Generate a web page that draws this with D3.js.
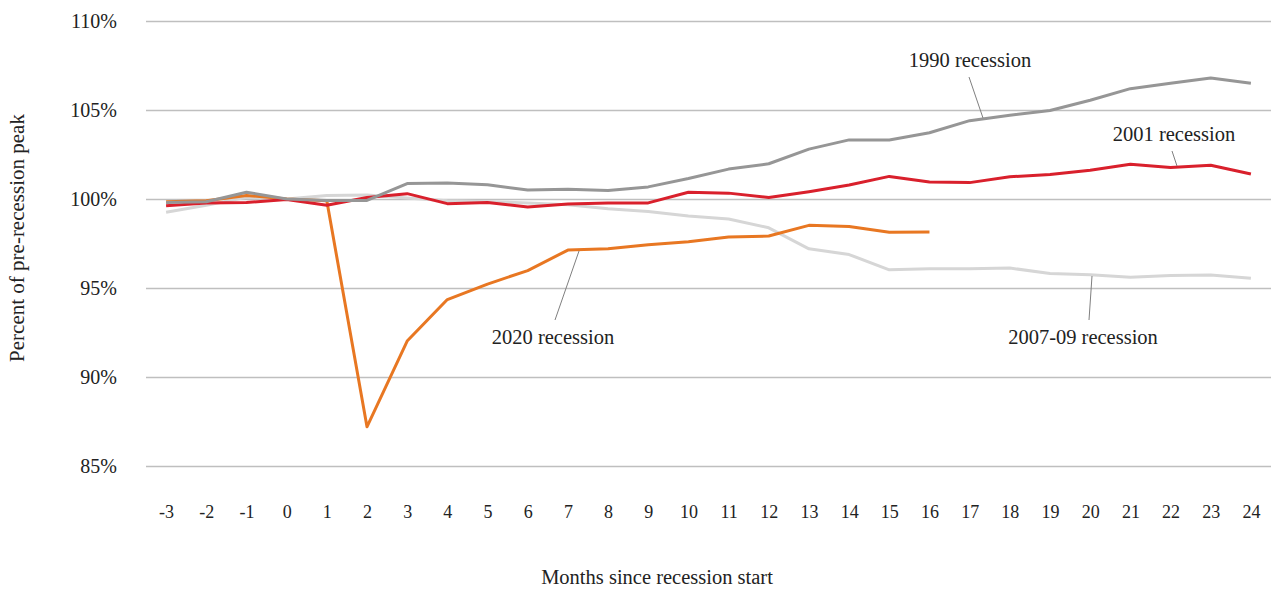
<!DOCTYPE html>
<meta charset="utf-8">
<head>
	<title>Recessions</title>
	<script src="https://cdnjs.cloudflare.com/ajax/libs/d3/7.8.5/d3.min.js" charset="utf-8"></script>
</head>
<style type="text/css">
	body { margin: 0; background: #fff; }
	text { font-family: "Liberation Serif", "DejaVu Serif", serif; fill: #222; }
	.grid line { stroke: #bfbfbf; stroke-width: 1.3; }
	.series { fill: none; stroke-width: 3; stroke-linejoin: round; }
</style>
<body>
<div id=chart></div>
<script>
	// months since recession start
	var months = [-3,-2,-1,0,1,2,3,4,5,6,7,8,9,10,11,12,13,14,15,16,17,18,19,20,21,22,23,24];
	var yTicks = [85, 90, 95, 100, 105, 110];

	// percent of pre-recession peak
	var r1990 = [99.8,99.85,100.38,100,99.92,99.92,100.87,100.9,100.8,100.5,100.55,100.48,100.68,101.15,101.68,101.98,102.8,103.32,103.32,103.72,104.4,104.7,104.97,105.55,106.2,106.5,106.8,106.5];
	var r2001 = [99.62,99.78,99.8,99.97,99.65,100.08,100.3,99.74,99.8,99.55,99.72,99.78,99.78,100.38,100.33,100.08,100.41,100.79,101.27,100.95,100.92,101.25,101.38,101.62,101.95,101.77,101.9,101.4];
	var r2007 = [99.25,99.65,100.1,100,100.2,100.22,100.05,99.9,99.85,99.78,99.68,99.45,99.3,99.05,98.88,98.38,97.2,96.88,96.02,96.08,96.08,96.12,95.82,95.75,95.6,95.7,95.73,95.55];
	var r2020 = [99.85,99.9,100.2,100,99.9,87.2,92.02,94.35,95.22,95.98,97.13,97.2,97.43,97.6,97.86,97.92,98.52,98.46,98.13,98.15];

	var seriesNames = ["2007-09 recession", "2020 recession", "2001 recession", "1990 recession"];
	var seriesValues = [r2007, r2020, r2001, r1990];
	var seriesColors = ["#d6d6d6", "#e87722", "#d9202c", "#969696"];

	var width = 1271, height = 590;
	var margin = {top: 21, right: 0, bottom: 124, left: 146};

	var svg = d3.select("#chart").append("svg")
		.attr("width", width)
		.attr("height", height);

	var xScale = d3.scalePoint()
		.domain(months)
		.range([margin.left, width - margin.right])
		.padding(0.5);

	var yScale = d3.scaleLinear()
		.domain([85, 110])
		.range([height - margin.bottom, margin.top]);

	// gridlines + y labels
	var yAxis = svg.append("g")
		.attr("class", "grid")
		.attr("transform", "translate(" + margin.left + ",0)")
		.call(d3.axisLeft(yScale)
			.tickValues(yTicks)
			.tickSize(-(width - margin.left - margin.right))
			.tickPadding(29)
			.tickFormat(function(d) { return d + "%"; }));
	yAxis.select(".domain").remove();
	yAxis.selectAll("text").style("font-size", "20px").style("font-family", null);

	// x tick labels
	var xAxis = svg.append("g")
		.attr("transform", "translate(0," + (height - margin.bottom) + ")")
		.call(d3.axisBottom(xScale).tickSize(0).tickPadding(39));
	xAxis.select(".domain").remove();
	xAxis.selectAll("text").style("font-size", "18px").style("font-family", null);

	var line = d3.line()
		.x(function(d, i) { return xScale(months[i]); })
		.y(function(d) { return yScale(d); });

	svg.selectAll(".series")
		.data(seriesValues)
	 .enter().append("path")
		.attr("class", "series")
		.attr("d", line)
		.style("stroke", function(d, i) { return seriesColors[i]; });

	// labels with leader lines
	var labels = [
		{name: "1990 recession", x: 970, y: 67, lx1: 969, ly1: 77, lx2: 983, ly2: 118},
		{name: "2001 recession", x: 1174, y: 141, lx1: 1172, ly1: 151, lx2: 1177, ly2: 166},
		{name: "2020 recession", x: 553, y: 344, lx1: 555, ly1: 320, lx2: 579, ly2: 251},
		{name: "2007-09 recession", x: 1083, y: 344, lx1: 1089, ly1: 320, lx2: 1092, ly2: 276}
	];

	svg.selectAll(".leader")
		.data(labels)
	 .enter().append("line")
		.attr("x1", function(d) { return d.lx1; })
		.attr("y1", function(d) { return d.ly1; })
		.attr("x2", function(d) { return d.lx2; })
		.attr("y2", function(d) { return d.ly2; })
		.style("stroke", "#7f7f7f")
		.style("stroke-width", 1);

	svg.selectAll(".lbl")
		.data(labels)
	 .enter().append("text")
		.attr("x", function(d) { return d.x; })
		.attr("y", function(d) { return d.y; })
		.style("text-anchor", "middle")
		.style("font-size", "20.5px")
		.text(function(d) { return d.name; });

	svg.append("text")
		.attr("x", 657)
		.attr("y", 584)
		.style("text-anchor", "middle")
		.style("font-size", "20.5px")
		.text("Months since recession start");

	svg.append("text")
		.attr("transform", "translate(24,238) rotate(-90)")
		.style("text-anchor", "middle")
		.style("font-size", "21px")
		.text("Percent of pre-recession peak");
</script>
</body>
